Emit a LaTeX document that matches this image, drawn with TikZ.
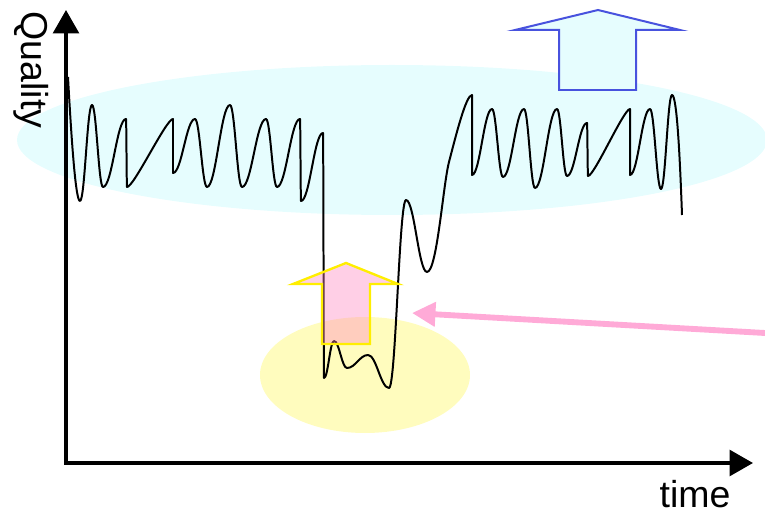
\documentclass[tikz,border=0pt]{standalone}
\usepackage{fontspec}
\setmainfont{Liberation Sans}
\usepackage{tikz}
\usetikzlibrary{arrows.meta}
\definecolor{cyanpale}{RGB}{230,253,254}
\definecolor{yellowpale}{RGB}{255,252,190}
\definecolor{liftblue}{RGB}{72,82,222}
\definecolor{liftyellow}{RGB}{255,238,0}
\definecolor{liftpink}{RGB}{255,130,190}
\definecolor{pointerpink}{RGB}{255,170,215}
\tikzset{
  axis/.style={line width=3pt,arrows={Triangle[length=20pt,width=22pt]-Triangle[length=20pt,width=22pt]}},
  wave/.style={line width=1.7pt,line join=round},
  pointer/.style={line width=5pt,pointerpink,-{Triangle[length=20pt,width=20pt]}},
  axislabel/.style={font=\fontsize{32}{38}\selectfont,inner sep=0pt}
}

\begin{document}
\begin{tikzpicture}[x=0.03cm,y=-0.03cm]
  \useasboundingbox (0,0) rectangle (765,515);
  % good and bad regions
  \fill[cyanpale] (392,140) ellipse [x radius=375,y radius=75];
  \fill[yellowpale] (365,375) ellipse [x radius=105,y radius=58];
  % lift of the good level
  \filldraw[liftblue,fill=cyanpale,line width=1.7pt]
    (598,10) -- (680,30) -- (636,30) -- (636,90) -- (559,90) -- (559,30) -- (515,30) -- cycle;
  % axes
  \coordinate (origin) at (66,463);
  \coordinate (ytop) at (66,10);
  \coordinate (xend) at (753,463);
  \draw[axis] (ytop) -- (origin) -- (xend);
  % quality over time (x/y/tension)
  \draw[wave] (68,77) .. controls (72,150) and (76,201) .. (80,201)
    \foreach \x/\y/\k [remember=\x as \lastx (initially 80),remember=\y as \lasty (initially 201)] in
      {92/105/0.4,103/187/0.4,126/119/0.4,127/187/0.4,173/119/0.15,173/173/0.4,195/119/0.4,
       207/187/0.4,230/105/0.4,242/187/0.4,266/119/0.4,277/187/0.4,300/119/0.4,301/201/0.4,
       323/133/0.4,324/378/0.4,334/341/0.4,347/368/0.4,368/355/0.4,389/388/0.4,406/200/0.4,
       427/272/0.4}
      { .. controls ({\lastx+\k*(\x-\lastx)},\lasty) and ({\x-\k*(\x-\lastx)},\y) .. (\x,\y) }
    .. controls (437,272) and (443,185) .. (449,162) .. controls (456,135) and (466,95) .. (472,95)
    \foreach \x/\y/\k [remember=\x as \lastx (initially 472),remember=\y as \lasty (initially 95)] in
      {472/175/0.4,492/109/0.4,503/177/0.4,524/109/0.4,535/188/0.4,557/109/0.4,567/176/0.4,
       587/123/0.4,588/176/0.4,630/109/0.15,630/175/0.4,650/109/0.4,661/189/0.4,672/95/0.4}
      { .. controls ({\lastx+\k*(\x-\lastx)},\lasty) and ({\x-\k*(\x-\lastx)},\y) .. (\x,\y) }
    .. controls (677,95) and (680,160) .. (682,215);
  % lift out of the dip
  \filldraw[liftyellow,fill=liftpink,fill opacity=0.38,line width=2pt]
    (346,263) -- (398,284) -- (370,284) -- (370,344) -- (322,344) -- (322,284) -- (293,284) -- cycle;
  % pointer to the dip
  \coordinate (src) at (765,333);
  \coordinate (dip) at (412,313);
  \draw[pointer] (src) -- (dip);
  % labels
  \node[axislabel,rotate=-90] (ylabel) at (31,70) {Quality};
  \node[axislabel,anchor=base] (xlabel) at (695,507) {time};
\end{tikzpicture}
\end{document}
